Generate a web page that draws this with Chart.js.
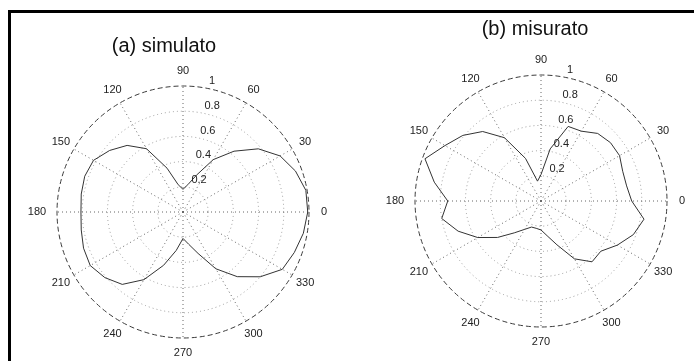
<!DOCTYPE html>
<html>
<head>
<meta charset="utf-8">
<script src="https://cdn.jsdelivr.net/npm/chart.js@4/dist/chart.umd.min.js"></script>
<style>
  html, body { margin: 0; padding: 0; background: #fff; width: 694px; height: 361px; overflow: hidden; }
  #frame { position: absolute; left: 8px; top: 10px; width: 700px; height: 360px;
           border-top: 3px solid #000; border-left: 3px solid #000; box-sizing: border-box; z-index: 0; }
  .panel { position: absolute; top: 0; height: 361px; z-index: 1; }
  #panelA { left: 0; width: 346px; }
  #panelB { left: 347px; width: 347px; }
</style>
</head>
<body>
<div id="frame"></div>
<div class="panel" id="panelA"><canvas id="chartA"></canvas></div>
<div class="panel" id="panelB"><canvas id="chartB"></canvas></div>
<script>
// Sample angles in degrees (counter-clockwise from 0 = east)
const angleDeg = [0, 10, 20, 30, 40, 50, 60, 70, 80, 90, 100, 110,
                  120, 130, 140, 150, 160, 170, 180, 190, 200, 210, 220, 230,
                  240, 250, 260, 270, 280, 290, 300, 310, 320, 330, 340, 350];

// Normalised radiation pattern, simulated
const simulato = [0.99, 0.99, 0.95, 0.89, 0.78, 0.63, 0.48, 0.31, 0.22, 0.18, 0.22, 0.37,
                  0.58, 0.69, 0.76, 0.82, 0.83, 0.82, 0.81, 0.82, 0.84, 0.85, 0.81, 0.75,
                  0.62, 0.45, 0.31, 0.21, 0.26, 0.35, 0.52, 0.67, 0.80, 0.91, 0.94, 0.97];

// Normalised radiation pattern, measured
const misurato = [0.72, 0.69, 0.69, 0.72, 0.72, 0.70, 0.64, 0.63, 0.42, 0.21, 0.16, 0.36,
                  0.58, 0.72, 0.81, 0.88, 0.98, 0.86, 0.74, 0.80, 0.70, 0.58, 0.45, 0.33,
                  0.26, 0.22, 0.22, 0.23, 0.28, 0.37, 0.53, 0.63, 0.62, 0.70, 0.78, 0.83];

// Angular tick labels and radial tick labels
const angleTicks = [0, 30, 60, 90, 120, 150, 180, 210, 240, 270, 300, 330];
const radialTicks = [0.2, 0.4, 0.6, 0.8, 1];
const radialTickLabels = ['0.2', '0.4', '0.6', '0.8', '1'];
const radialLabelAngle = 80;

const titleA = '(a) simulato';
const titleB = '(b) misurato';

// The radial scale runs clockwise; starting at east and walking the samples
// in reverse order gives the counter-clockwise polar convention.
const order = angleDeg.map((_, i) => (angleDeg.length - i) % angleDeg.length);
const radarLabels = order.map(i => angleDeg[i]);

const polarDecor = {
  id: 'polarDecor',
  afterDraw(chart, args, opts) {
    const r = chart.scales.r;
    const ctx = chart.ctx;
    ctx.save();
    ctx.fillStyle = '#222';
    // angular labels outside the outer ring
    ctx.font = '11px "Liberation Sans", Arial, sans-serif';
    ctx.textAlign = 'center';
    ctx.textBaseline = 'middle';
    radarLabels.forEach((deg, i) => {
      if (angleTicks.includes(deg)) {
        const extra = (deg === 180) ? 20 : 15;
        const p = r.getPointPosition(i, r.drawingArea + extra);
        ctx.fillText(String(deg), p.x, p.y);
      }
    });
    // radial labels along one spoke
    const idx = radarLabels.indexOf(radialLabelAngle);
    ctx.textAlign = 'left';
    radialTicks.forEach((v, k) => {
      const p = r.getPointPositionForValue(idx, v);
      ctx.fillText(radialTickLabels[k], p.x + 4, p.y - 7);
    });
    // panel title
    ctx.font = '20px "Liberation Sans", Arial, sans-serif';
    ctx.textAlign = 'center';
    ctx.textBaseline = 'alphabetic';
    ctx.fillStyle = '#111';
    ctx.fillText(opts.text, opts.x, opts.y);
    ctx.restore();
  }
};

function makePolar(canvasId, values, padding, title) {
  const ctx = document.getElementById(canvasId);
  return new Chart(ctx, {
    type: 'radar',
    data: {
      labels: radarLabels,
      datasets: [{
        data: order.map(i => values[i]),
        borderColor: '#333',
        borderWidth: 1,
        fill: false,
        pointRadius: 0,
        pointHoverRadius: 0,
        tension: 0
      }]
    },
    options: {
      responsive: true,
      maintainAspectRatio: false,
      animation: false,
      devicePixelRatio: 1,
      layout: { padding: padding },
      plugins: {
        legend: { display: false },
        tooltip: { enabled: false },
        polarDecor: title
      },
      scales: {
        r: {
          min: 0,
          max: 1,
          startAngle: 90,
          ticks: { display: false, stepSize: 0.2 },
          pointLabels: { display: false },
          grid: {
            circular: true,
            color: c => (c.tick && c.tick.value > 0.99) ? '#3a3a3a' : '#9a9a9a',
            lineWidth: 1
          },
          border: {
            dash: c => (c.tick && c.tick.value > 0.99) ? [5, 3] : [1, 3]
          },
          angleLines: {
            display: true,
            color: c => angleTicks.includes(radarLabels[c.index]) ? '#666' : 'rgba(0,0,0,0)',
            lineWidth: 1,
            borderDash: [1, 3]
          }
        }
      }
    },
    plugins: [polarDecor]
  });
}

makePolar('chartA', simulato, { left: 57, right: 37, top: 86, bottom: 23 },
          { text: titleA, x: 164, y: 52 });
makePolar('chartB', misurato, { left: 68, right: 27, top: 75, bottom: 34 },
          { text: titleB, x: 188, y: 35 });
</script>
</body>
</html>
